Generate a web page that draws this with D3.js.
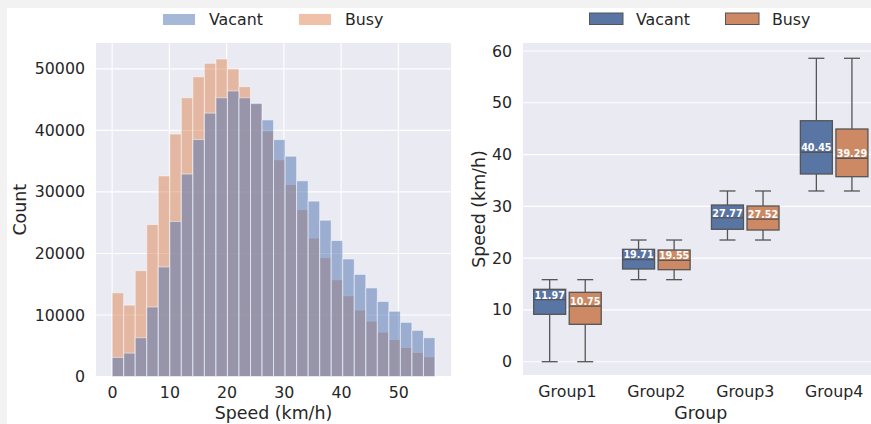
<!DOCTYPE html>
<html>
<head>
<meta charset="utf-8">
<script src="https://cdn.jsdelivr.net/npm/d3@7"></script>
<style>
  html, body { margin: 0; padding: 0; background: #f2f2f2; }
  svg { display: block; }
  text { font-family: "DejaVu Sans", sans-serif; fill: #262626; }
</style>
</head>
<body>
<svg id="chart" width="871" height="424"></svg>
<script>
// ---- Histogram data: counts per 2 km/h speed bin ----
const speedMin = 0;
const speedMax = 56.4;
const vacantCounts = [3100, 3800, 6300, 11300, 17800, 25200, 32900, 38500, 42800, 45300,
  46400, 45300, 44400, 41700, 38500, 35800, 31800, 28500, 25400, 22100,
  19100, 16600, 14400, 12200, 10600, 8800, 7500, 6300];
const busyCounts = [13600, 11600, 17200, 24700, 32600, 39400, 45300, 48700, 50900, 51600,
  50000, 47100, 44300, 39900, 35200, 31200, 27100, 22500, 19300, 15700,
  13100, 10800, 9000, 7200, 6000, 4700, 3900, 3200];
const histXTicks = [0, 10, 20, 30, 40, 50];
const histYTicks = [0, 10000, 20000, 30000, 40000, 50000];

// ---- Box plot data: speed distribution per group ----
const groups = ["Group1", "Group2", "Group3", "Group4"];
const statuses = ["Vacant", "Busy"];
// [whiskerLow, q1, median, q3, whiskerHigh]
const vacantBoxes = [
  [0, 9.15, 11.97, 13.98, 15.84],
  [15.84, 17.9, 19.71, 21.7, 23.5],
  [23.5, 25.57, 27.77, 30.26, 32.97],
  [32.97, 36.25, 40.45, 46.54, 58.6]
];
const busyBoxes = [
  [0, 7.22, 10.75, 13.4, 15.84],
  [15.84, 17.77, 19.55, 21.57, 23.5],
  [23.5, 25.43, 27.52, 30.07, 32.97],
  [32.97, 35.73, 39.29, 44.94, 58.6]
];
const boxYTicks = [0, 10, 20, 30, 40, 50, 60];

// ---- Styling ----
const blue = "#4c72b0", orange = "#dd8452";
const boxBlue = "#5975a4", boxOrange = "#cc8963";
const lineGray = "#555555";
const panelBg = "#eaeaf2";
const tickSize = 15.8, labelSize = 17.4;

const svg = d3.select("#chart");
svg.append("rect").attr("x", 7).attr("y", 8).attr("width", 871).attr("height", 424).attr("fill", "#ffffff");

// ================= Left panel: overlaid histograms =================
const L = { left: 96, right: 451, top: 43, bottom: 376.5 };
const hx = d3.scaleLinear().domain([-2.82, 59.2]).range([L.left, L.right]);
const hy = d3.scaleLinear().domain([0, 54200]).range([L.bottom, L.top]);
const binW = (speedMax - speedMin) / vacantCounts.length;

const gL = svg.append("g");
gL.append("rect").attr("x", L.left).attr("y", L.top)
  .attr("width", L.right - L.left).attr("height", L.bottom - L.top).attr("fill", panelBg);

// grid
gL.append("g").selectAll("line").data(histXTicks).join("line")
  .attr("x1", d => hx(d)).attr("x2", d => hx(d)).attr("y1", L.top).attr("y2", L.bottom)
  .attr("stroke", "#fff").attr("stroke-width", 1.1);
gL.append("g").selectAll("line").data(histYTicks).join("line")
  .attr("x1", L.left).attr("x2", L.right).attr("y1", d => hy(d)).attr("y2", d => hy(d))
  .attr("stroke", "#fff").attr("stroke-width", 1.1);

function drawBars(counts, color) {
  gL.append("g").selectAll("rect").data(counts).join("rect")
    .attr("x", (d, i) => hx(speedMin + i * binW))
    .attr("width", (d, i) => hx(speedMin + (i + 1) * binW) - hx(speedMin + i * binW))
    .attr("y", d => hy(d))
    .attr("height", d => hy(0) - hy(d))
    .attr("fill", color).attr("fill-opacity", 0.5)
    .attr("stroke", "#ffffff").attr("stroke-opacity", 0.5).attr("stroke-width", 1);
}
drawBars(busyCounts, orange);
drawBars(vacantCounts, blue);

// axes (labels only, no tick marks)
const axL = d3.axisBottom(hx).tickValues(histXTicks).tickSize(0).tickPadding(10).tickFormat(d3.format("d"));
gL.append("g").attr("transform", `translate(0,${L.bottom})`).call(axL)
  .call(g => g.select(".domain").remove())
  .selectAll("text").attr("font-size", tickSize).attr("fill", "#262626").attr("font-family", "DejaVu Sans");
const ayL = d3.axisLeft(hy).tickValues(histYTicks).tickSize(0).tickPadding(11).tickFormat(d3.format("d"));
gL.append("g").attr("transform", `translate(${L.left},0)`).call(ayL)
  .call(g => g.select(".domain").remove())
  .selectAll("text").attr("font-size", tickSize).attr("fill", "#262626").attr("font-family", "DejaVu Sans");

gL.append("text").attr("x", (L.left + L.right) / 2).attr("y", 419)
  .attr("text-anchor", "middle").attr("font-size", labelSize).text("Speed (km/h)");
gL.append("text").attr("transform", `translate(26,${(L.top + L.bottom) / 2}) rotate(-90)`)
  .attr("text-anchor", "middle").attr("font-size", labelSize).text("Count");

// legend
const legL = [
  { name: "Vacant", color: blue, x: 163, tx: 209 },
  { name: "Busy", color: orange, x: 299, tx: 345 }
];
legL.forEach(l => {
  gL.append("rect").attr("x", l.x).attr("y", 14).attr("width", 32).attr("height", 11)
    .attr("fill", l.color).attr("fill-opacity", 0.5);
  gL.append("text").attr("x", l.tx).attr("y", 25).attr("font-size", tickSize).text(l.name);
});

// ================= Right panel: grouped box plots =================
const R = { left: 523, right: 878.6, top: 43, bottom: 375 };
const bx = d3.scaleBand().domain(groups).range([R.left, R.right]).padding(0);
const by = d3.scaleLinear().domain([-2.57, 61.55]).range([R.bottom, R.top]);
const hue = d3.scaleBand().domain(statuses).range([-0.4, 0.4]);

const gR = svg.append("g");
gR.append("rect").attr("x", R.left).attr("y", R.top)
  .attr("width", R.right - R.left).attr("height", R.bottom - R.top).attr("fill", panelBg);
gR.append("g").selectAll("line").data(boxYTicks).join("line")
  .attr("x1", R.left).attr("x2", R.right).attr("y1", d => by(d)).attr("y2", d => by(d))
  .attr("stroke", "#fff").attr("stroke-width", 1.1);

const boxRows = [];
groups.forEach((g, i) => {
  boxRows.push({ group: g, status: "Vacant", s: vacantBoxes[i], color: boxBlue });
  boxRows.push({ group: g, status: "Busy", s: busyBoxes[i], color: boxOrange });
});

const bw = bx.bandwidth();
boxRows.forEach(r => {
  const cx = bx(r.group) + bw / 2 + (hue(r.status) + hue.bandwidth() / 2) * bw;
  const half = hue.bandwidth() * bw * 0.9 / 2;
  const cap = half / 2;
  const [lo, q1, med, q3, hi] = r.s;
  const g = gR.append("g");
  // whiskers
  g.append("line").attr("x1", cx).attr("x2", cx).attr("y1", by(q3)).attr("y2", by(hi))
    .attr("stroke", lineGray).attr("stroke-width", 1.3);
  g.append("line").attr("x1", cx).attr("x2", cx).attr("y1", by(q1)).attr("y2", by(lo))
    .attr("stroke", lineGray).attr("stroke-width", 1.3);
  [lo, hi].forEach(v => g.append("line").attr("x1", cx - cap).attr("x2", cx + cap)
    .attr("y1", by(v)).attr("y2", by(v)).attr("stroke", lineGray).attr("stroke-width", 1.3));
  // box
  g.append("rect").attr("x", cx - half).attr("width", half * 2)
    .attr("y", by(q3)).attr("height", by(q1) - by(q3))
    .attr("fill", r.color).attr("stroke", lineGray).attr("stroke-width", 1.3);
  // median
  g.append("line").attr("x1", cx - half).attr("x2", cx + half).attr("y1", by(med)).attr("y2", by(med))
    .attr("stroke", lineGray).attr("stroke-width", 1.3);
  // median label
  g.append("text").attr("x", cx).attr("y", by(med) - 1.2)
    .attr("text-anchor", "middle").attr("font-size", 9.6).attr("font-weight", "bold")
    .style("fill", "#ffffff").text(med.toFixed(2));
});

const axR = d3.axisBottom(bx).tickSize(0).tickPadding(10);
gR.append("g").attr("transform", `translate(0,${R.bottom + 0.5})`).call(axR)
  .call(g => g.select(".domain").remove())
  .selectAll("text").attr("font-size", tickSize).attr("fill", "#262626").attr("font-family", "DejaVu Sans");
const ayR = d3.axisLeft(by).tickValues(boxYTicks).tickSize(0).tickPadding(11).tickFormat(d3.format("d"));
gR.append("g").attr("transform", `translate(${R.left},0)`).call(ayR)
  .call(g => g.select(".domain").remove())
  .selectAll("text").attr("font-size", tickSize).attr("fill", "#262626").attr("font-family", "DejaVu Sans");

gR.append("text").attr("x", (R.left + R.right) / 2).attr("y", 419)
  .attr("text-anchor", "middle").attr("font-size", labelSize).text("Group");
gR.append("text").attr("transform", `translate(485,${(R.top + R.bottom) / 2}) rotate(-90)`)
  .attr("text-anchor", "middle").attr("font-size", labelSize).text("Speed (km/h)");

const legR = [
  { name: "Vacant", color: boxBlue, x: 589.5, tx: 636 },
  { name: "Busy", color: boxOrange, x: 725.5, tx: 772 }
];
legR.forEach(l => {
  gR.append("rect").attr("x", l.x).attr("y", 13).attr("width", 33.5).attr("height", 11.5)
    .attr("fill", l.color).attr("stroke", lineGray).attr("stroke-width", 1);
  gR.append("text").attr("x", l.tx).attr("y", 25).attr("font-size", tickSize).text(l.name);
});
</script>
</body>
</html>
